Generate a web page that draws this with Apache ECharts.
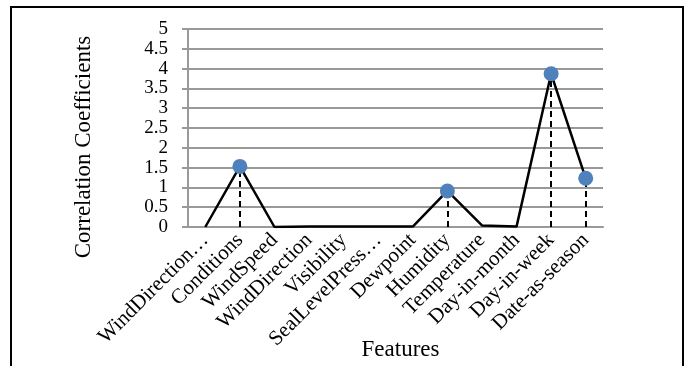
<!DOCTYPE html>
<html><head><meta charset="utf-8">
<script src="https://cdn.jsdelivr.net/npm/echarts@6/dist/echarts.min.js"></script>
<style>html,body{margin:0;padding:0;background:#fff}#c{width:700px;height:366px}</style>
</head><body><div id="c"></div>
<script>
var categories = ['WindDirection…','Conditions','WindSpeed','WindDirection','Visibility','SealLevelPress…','Dewpoint','Humidity','Temperature','Day-in-month','Day-in-week','Date-as-season'];
var values = [0, 1.53, 0, 0.01, 0.01, 0.01, 0.01, 0.91, 0.04, 0.01, 3.87, 1.23];
var markedFeatures = ['Conditions','Humidity','Day-in-week','Date-as-season'];
var yTicks = {min: 0, max: 5, interval: 0.5};

var markedData = categories.map(function(c, i){ return markedFeatures.indexOf(c) >= 0 ? values[i] : null; });
var dropLines = markedFeatures.map(function(c){
  var v = values[categories.indexOf(c)];
  return [{coord: [c, 0]}, {coord: [c, v]}];
});
var font = '"Liberation Serif","Times New Roman",serif';
var chart = echarts.init(document.getElementById('c'), null, {renderer: 'canvas'});
chart.setOption({
  animation: false,
  grid: {left: 188, right: 97, top: 29, bottom: 139, containLabel: false, outerBoundsMode: 'none'},
  graphic: [{type: 'rect', shape: {x: 11, y: 7, width: 672, height: 400}, style: {fill: 'none', stroke: '#000', lineWidth: 2}, silent: true}],
  xAxis: {
    type: 'category', data: categories, boundaryGap: true,
    name: 'Features', nameLocation: 'middle', nameGap: 111, nameMoveOverlap: false,
    nameTextStyle: {fontFamily: font, fontSize: 23, color: '#000', padding: [0, 0, 0, 10]},
    axisLine: {lineStyle: {color: '#999', width: 2}},
    axisTick: {show: false},
    axisLabel: {rotate: 45, margin: 10, fontFamily: font, fontSize: 21, color: '#000', interval: 0, hideOverlap: false}
  },
  yAxis: {
    type: 'value', min: yTicks.min, max: yTicks.max, interval: yTicks.interval,
    name: 'Correlation Coefficients', nameLocation: 'middle', nameGap: 93, nameMoveOverlap: false,
    nameTextStyle: {fontFamily: font, fontSize: 23, color: '#000', padding: [0, 38, 0, 0]},
    axisLine: {show: true, lineStyle: {color: '#999', width: 2}},
    axisTick: {show: true, length: 6, lineStyle: {color: '#999', width: 2}},
    splitLine: {lineStyle: {color: '#999', width: 2}},
    axisLabel: {fontFamily: font, fontSize: 19, color: '#000', margin: 20, lineHeight: 16, showMinLabel: true, showMaxLabel: true}
  },
  series: [
    {type: 'line', data: values, showSymbol: false, symbol: 'none', lineStyle: {color: '#000', width: 2.5}, z: 3},
    {type: 'scatter', data: markedData, symbolSize: 15, itemStyle: {color: '#4F81BD', opacity: 1}, z: 4,
     markLine: {symbol: 'none', silent: true, label: {show: false}, lineStyle: {color: '#000', width: 2, type: [6, 4]}, data: dropLines, z: 3}}
  ]
});
</script></body></html>
